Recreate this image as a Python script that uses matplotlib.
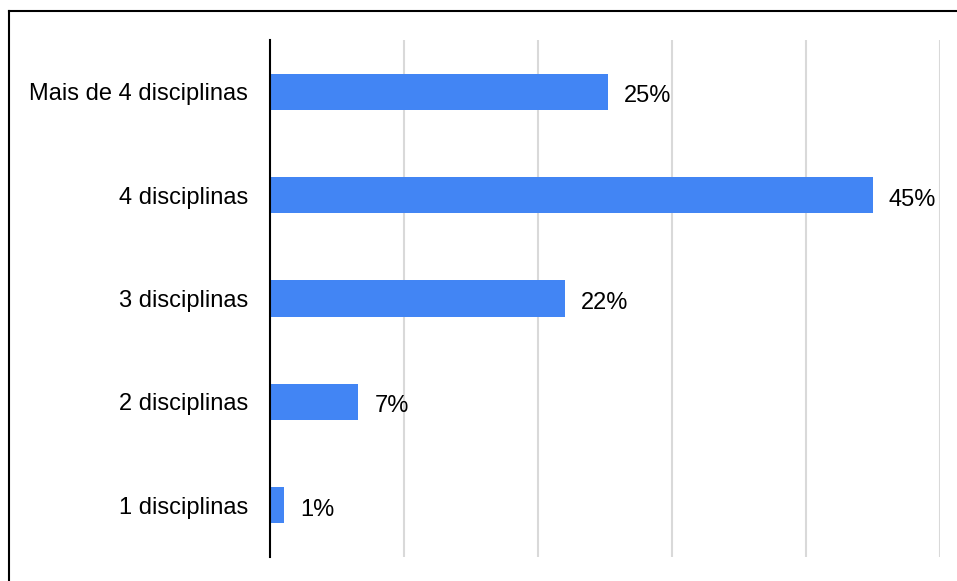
import matplotlib
matplotlib.use("Agg")
import matplotlib.pyplot as plt
from matplotlib.lines import Line2D

categories = ["1 disciplinas", "2 disciplinas", "3 disciplinas", "4 disciplinas", "Mais de 4 disciplinas"]
values = [1.05, 6.6, 22.0, 45.0, 25.2]
labels = ["1%", "7%", "22%", "45%", "25%"]

plt.rcParams['font.family'] = ['Liberation Sans', 'DejaVu Sans']

W, H = 957, 581
fig = plt.figure(figsize=(W / 100, H / 100), dpi=100)
ax = fig.add_axes([270 / W, 1 - 557 / H, 670 / W, 517 / H])

ax.barh(range(len(categories)), values, height=0.35, color="#4285F4", zorder=3)
for i, (v, lab) in enumerate(zip(values, labels)):
    ax.annotate(lab, (v, i), xytext=(11.5, -1.5), textcoords="offset points",
                va="center_baseline", ha="left", fontsize=17, color="black")

ax.set_xlim(0, 50)
ax.set_ylim(-0.5, len(categories) - 0.5)
ax.set_yticks(range(len(categories)))
ax.set_yticklabels(categories, fontsize=17, color="black")
ax.set_xticks([10, 20, 30, 40, 50])
ax.tick_params(axis="x", length=0, labelbottom=False)
ax.tick_params(axis="y", length=0, pad=16)
ax.grid(axis="x", color="#d9d9d9", linewidth=1.5, zorder=0)
for s in ["top", "right", "bottom"]:
    ax.spines[s].set_visible(False)
ax.spines["left"].set_linewidth(1.5)
ax.spines["left"].set_zorder(4)

# frame around the image (only left and top visible)
fig.add_artist(Line2D([9 / W, 9 / W], [0, 1 - 11 / H], color="black", linewidth=1.5))
fig.add_artist(Line2D([9 / W, 1], [1 - 11 / H, 1 - 11 / H], color="black", linewidth=1.5))

fig.savefig("out.png", dpi=100)
